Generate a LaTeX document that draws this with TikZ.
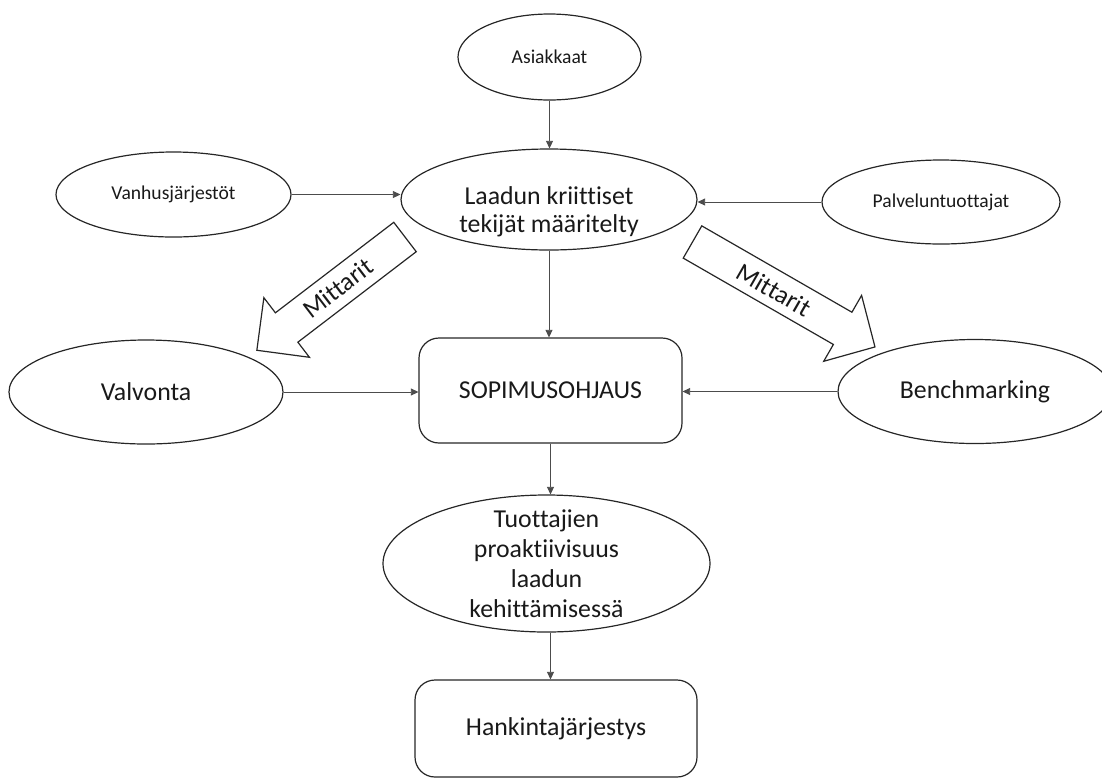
\documentclass[tikz,border=0pt]{standalone}
\usepackage{fontspec}
\setmainfont{Carlito}[Ligatures={NoCommon}]
\usetikzlibrary{shapes.geometric,arrows.meta}

\begin{document}
\begin{tikzpicture}[x=1pt,y=-1pt,
  oval/.style={draw=black!85, line width=1.2pt, ellipse, inner sep=0pt, align=center},
  box/.style={draw=black!85, line width=1.2pt, rounded corners=20pt, inner sep=0pt},
  big/.style={font=\fontsize{25.8}{29}\selectfont, text=black!90},
  small/.style={font=\fontsize{19.6}{23}\selectfont, text=black!90},
  link/.style={draw=black!70, line width=0.8pt, -{Triangle[length=7.5pt,width=7pt]}},
  blockarrow/.style={draw=black!85, line width=1.2pt, fill=white, line join=miter}
]
\useasboundingbox (0,0) rectangle (1102,780);

% quality inputs
\node[oval, small, minimum width=183pt, minimum height=86pt] (asi) at (549.5,57) {Asiakkaat};
\node[oval, minimum width=296pt, minimum height=101pt] (laa) at (549,199.5) {};
\node[big, align=center, font=\fontsize{25.8}{28}\selectfont] (laatext) at (549,212) {Laadun kriittiset\\tekijät määritelty};
\node[oval, small, minimum width=235pt, minimum height=85pt] (van) at (173.5,194.5) {Vanhusjärjestöt};
\node[oval, small, minimum width=238pt, minimum height=84pt] (pal) at (941,202) {Palveluntuottajat};

% monitoring and comparison
\node[oval, big, minimum width=274pt, minimum height=104pt] (val) at (146,392) {Valvonta};
\node[oval, big, minimum width=274pt, minimum height=104pt] (ben) at (975,391.5) {Benchmarking};

% contract steering chain
\node[box, big, minimum width=263pt, minimum height=105pt] (sop) at (550.5,390.5) {SOPIMUSOHJAUS};
\node[oval, minimum width=327pt, minimum height=137pt] (tuo) at (546.5,563.5) {};
\node[big, align=center, font=\fontsize{25.8}{30}\selectfont] (tuotext) at (546.5,564) {Tuottajien\\proaktiivisuus\\laadun\\kehittämisessä};
\node[box, big, minimum width=282pt, minimum height=97pt] (han) at (556,728.5) {Hankintajärjestys};

% thin connectors
\draw[link] (asi.south) -- (asi.south |- laa.north);
\draw[link] (van.east) -- (van.east -| laa.west);
\draw[link] (pal.west) -- (pal.west -| laa.east);
\draw[link] (laa.south) -- (laa.south |- sop.north);
\draw[link] (val.east) -- (val.east -| sop.west);
\draw[link] (ben.west) -- (ben.west -| sop.east);
\draw[link] (sop.south) -- (sop.south |- tuo.north);
\draw[link] (sop.south |- tuo.south) -- (sop.south |- han.north);

% block arrows labelled with the metrics
\begin{scope}[shift={(405,237)}, rotate=217.4]
  \draw[blockarrow] (0,18.5) -- (149,18.5) -- (149,37.5) -- (186.5,0)
    -- (149,-37.5) -- (149,-18.5) -- (0,-18.5) -- cycle;
\end{scope}
\node[big, rotate=37.4] (mleft) at (338,288) {Mittarit};

\begin{scope}[shift={(692.5,242)}, rotate=-29.9]
  \draw[blockarrow] (0,18.6) -- (173.2,18.6) -- (173.2,38) -- (210.5,0)
    -- (173.2,-38) -- (173.2,-18.6) -- (0,-18.6) -- cycle;
\end{scope}
\node[big, rotate=-29.9] (mright) at (774,290) {Mittarit};
\end{tikzpicture}
\end{document}
